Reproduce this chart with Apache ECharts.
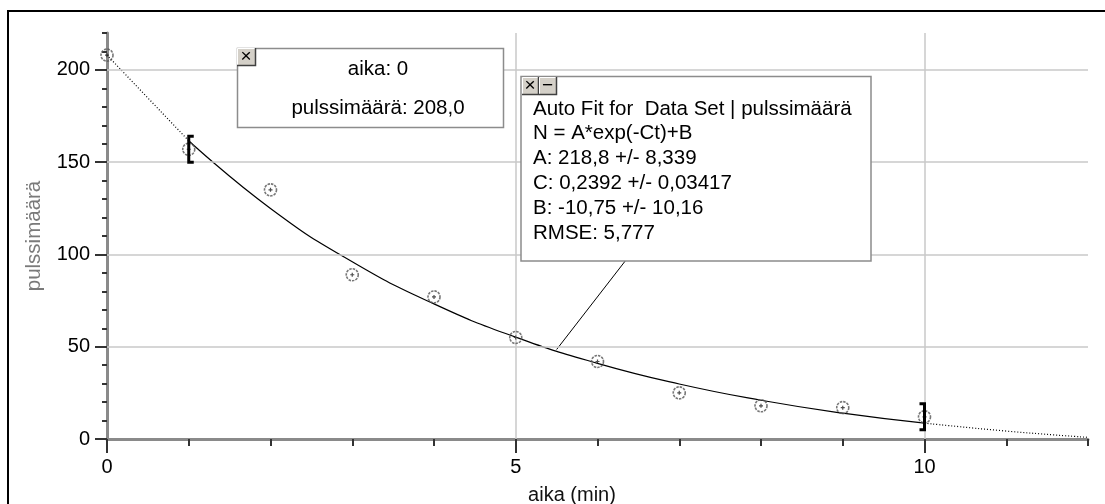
<!DOCTYPE html>
<html><head><meta charset="utf-8">
<script src="https://cdn.jsdelivr.net/npm/echarts@6/dist/echarts.min.js"></script>
<style>html,body{margin:0;padding:0;background:#fff}#c{width:1105px;height:504px}</style>
</head><body><div id="c"></div>
<script>
// ---- data ----
const times  = [0, 1, 2, 3, 4, 5, 6, 7, 8, 9, 10];
const counts = [208, 157, 135, 89, 77, 55, 42, 25, 18, 17, 12];
// fitted curve as drawn in the picture
const fitX = [0, 1, 2, 3, 4, 5, 6, 7, 8, 9, 10, 11, 12];
const fitY = [208, 161.6, 124.9, 96.0, 73.2, 55.2, 41.0, 29.8, 21.0, 14.0, 8.6, 4.3, 0.9];
const fitStart = 1, fitEnd = 10;
const xMajorTicks = [0, 5, 10];
const yMajorTicks = [0, 50, 100, 150, 200];
const xGridValues = [5, 10];
const yGridValues = [50, 100, 150, 200];
const calloutX = [5.5, 6.34];
const calloutY = [48.5, 96.5];
const infoLines = ['aika: 0', 'pulssimäärä: 208,0'];
const fitLines = ['Auto Fit for  Data Set | pulssimäärä', 'N = A*exp(-Ct)+B', 'A: 218,8 +/- 8,339',
  'C: 0,2392 +/- 0,03417', 'B: -10,75 +/- 10,16', 'RMSE: 5,777'];
const xName = 'aika (min)';
const yName = 'pulssimäärä';

// ---- build ----
const FONT = 'Liberation Sans';
const pts = times.map((t, i) => [t, counts[i]]);
const fit = fitX.map((x, i) => [x, fitY[i]]);
const fitLeft = fit.filter(p => p[0] <= fitStart);
const fitMid = fit.filter(p => p[0] >= fitStart && p[0] <= fitEnd);
const fitRight = fit.filter(p => p[0] >= fitEnd);
const bStart = pts.find(p => p[0] === fitStart);
const bEnd = pts.find(p => p[0] === fitEnd);
// bracket data: x, y, direction of arms (+1 right "[", -1 left "]")
const brackets = [[bStart[0], bStart[1], 1], [bEnd[0], bEnd[1], -1]];

function button(x, y, w, h, label) {
  return [
    {type: 'rect', shape: {x: x, y: y, width: w, height: h}, style: {fill: '#d4d0c8'}, z: 200},
    {type: 'polyline', shape: {points: [[x + 0.5, y + h - 1], [x + 0.5, y + 0.5], [x + w - 1, y + 0.5]]}, style: {stroke: '#ffffff', lineWidth: 1, fill: null}, z: 201},
    {type: 'polyline', shape: {points: [[x, y + h - 0.5], [x + w - 0.5, y + h - 0.5], [x + w - 0.5, y]]}, style: {stroke: '#404040', lineWidth: 1.5, fill: null}, z: 201},
    {type: 'text', x: x + w / 2 - 0.5, y: y + h / 2, style: {text: label, fill: '#000', font: '19px ' + FONT, align: 'center', verticalAlign: 'middle'}, z: 202}
  ];
}

const graphics = [
  {type: 'polyline', shape: {points: [[8, 504], [8, 11], [1105, 11]]}, style: {stroke: '#000', lineWidth: 2, fill: null}, z: 100},
  {type: 'rect', shape: {x: 237.5, y: 48.5, width: 266, height: 79}, style: {fill: '#fff', stroke: '#8c8c8c', lineWidth: 1.5}, z: 150},
  ...button(237, 48, 19, 18, '×'),
  ...infoLines.map((t, i) => ({type: 'text', x: 378, y: 69 + i * 39, style: {text: t, fill: '#000', font: '20.5px ' + FONT, align: 'center', verticalAlign: 'middle'}, z: 160})),
  {type: 'rect', shape: {x: 521, y: 76.5, width: 350, height: 184.5}, style: {fill: '#fff', stroke: '#8c8c8c', lineWidth: 1.5}, z: 150},
  ...button(522, 77, 17, 18, '×'),
  ...button(539, 77, 18, 18, '−'),
  ...fitLines.map((t, i) => ({type: 'text', x: 533, y: 109 + i * 24.8, style: {text: t, fill: '#000', font: '20.5px ' + FONT, align: 'left', verticalAlign: 'middle'}, z: 160}))
];

const chart = echarts.init(document.getElementById('c'), null, {renderer: 'canvas'});
const labelFmt = v => (v % 5 === 0 && v <= 10 ? String(v) : '');
const yLabelFmt = v => (v % 50 === 0 && v <= 200 ? String(v) : '');
chart.setOption({
  animation: false,
  backgroundColor: '#fff',
  grid: {left: 107, right: 17, top: 33, bottom: 65, containLabel: false, outerBoundsMode: 'none'},
  xAxis: [
    {type: 'value', min: 0, max: 12, interval: 1,
     axisLine: {show: true, onZero: false, lineStyle: {color: '#8a8a8a', width: 3}},
     axisTick: {show: true, length: 7, lineStyle: {color: '#333', width: 2}},
     axisLabel: {show: true, formatter: labelFmt, margin: 18, color: '#000', fontFamily: FONT, fontSize: 20},
     splitLine: {show: false},
     name: xName, nameLocation: 'middle', nameGap: 46,
     nameTextStyle: {color: '#111', fontFamily: FONT, fontSize: 20, padding: [0, 51, 0, 0]}},
    {type: 'value', min: 0, max: 12, interval: 1, position: 'bottom',
     axisLine: {show: false, onZero: false},
     axisTick: {show: true, length: 14, customValues: xMajorTicks, lineStyle: {color: '#333', width: 2}},
     axisLabel: {show: false},
     splitLine: {show: false}}
  ],
  yAxis: [
    {type: 'value', min: 0, max: 220, interval: 10,
     axisLine: {show: true, onZero: false, lineStyle: {color: '#8a8a8a', width: 3}},
     axisTick: {show: true, length: 5, lineStyle: {color: '#333', width: 2}},
     axisLabel: {show: true, formatter: yLabelFmt, margin: 17, color: '#000', fontFamily: FONT, fontSize: 20},
     splitLine: {show: false},
     name: yName, nameLocation: 'middle', nameGap: 62,
     nameTextStyle: {color: '#7a7a7a', fontFamily: FONT, fontSize: 20.5}},
    {type: 'value', min: 0, max: 220, interval: 10, position: 'left',
     axisLine: {show: false, onZero: false},
     axisTick: {show: true, length: 12, customValues: yMajorTicks, lineStyle: {color: '#333', width: 2}},
     axisLabel: {show: false},
     splitLine: {show: false}}
  ],
  series: [
    {type: 'line', data: [], z: 1, silent: true,
     markLine: {silent: true, symbol: ['none', 'none'], label: {show: false},
       lineStyle: {color: '#c8c8c8', width: 1.5, type: 'solid'},
       data: [...xGridValues.map(v => ({xAxis: v})), ...yGridValues.map(v => ({yAxis: v}))]}},
    {type: 'line', data: fitLeft, smooth: true, showSymbol: false, symbol: 'none', z: 3,
     lineStyle: {color: '#000', width: 1.2, type: [1, 2]}},
    {type: 'line', data: fitRight, smooth: true, showSymbol: false, symbol: 'none', z: 3,
     lineStyle: {color: '#000', width: 1.2, type: [1, 2]}},
    {type: 'line', data: fitMid, smooth: true, showSymbol: false, symbol: 'none', z: 4,
     lineStyle: {color: '#000', width: 1.2}},
    {type: 'line', data: calloutX.map((x, i) => [x, calloutY[i]]), showSymbol: false, symbol: 'none', z: 4,
     lineStyle: {color: '#000', width: 1}},
    {type: 'scatter', data: pts, symbol: 'circle', symbolSize: 12, z: 5,
     itemStyle: {color: 'rgba(0,0,0,0)', borderColor: '#555', borderWidth: 1.6, borderType: [2.5, 1]}},
    {type: 'scatter', data: pts, symbol: 'path://M5,0L5,10M0,5L10,5', symbolSize: 4, z: 6,
     itemStyle: {color: 'none', borderColor: '#222', borderWidth: 1.2}},
    {type: 'custom', data: brackets, z: 7, silent: true,
     renderItem: function (params, api) {
       const p = api.coord([api.value(0), api.value(1)]);
       const d = api.value(2);
       return {type: 'polyline',
         shape: {points: [[p[0] + d * 5, p[1] - 13], [p[0], p[1] - 13], [p[0], p[1] + 13], [p[0] + d * 5, p[1] + 13]]},
         style: {stroke: '#000', lineWidth: 3, fill: null}};
     }}
  ],
  graphic: graphics
});
</script></body></html>
